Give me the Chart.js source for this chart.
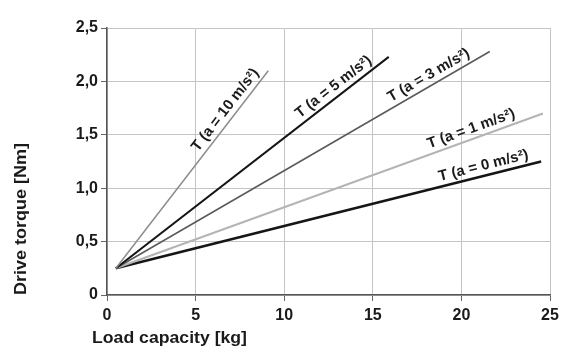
<!DOCTYPE html>
<html>
<head>
<meta charset="utf-8">
<script src="https://cdn.jsdelivr.net/npm/chart.js"></script>
<style>
  body { margin: 0; background: #fff; }
</style>
</head>
<body>
<canvas id="mycanvas" width="570" height="351"></canvas>
<script>
// all lines start from the same point
var startLoad = 0.5;
var startTorque = 0.25;

var seriesNames = ['T (a = 10 m/s²)', 'T (a = 5 m/s²)', 'T (a = 3 m/s²)', 'T (a = 1 m/s²)', 'T (a = 0 m/s²)'];
var endLoad = [9.1, 15.9, 21.6, 24.6, 24.5];
var endTorque = [2.1, 2.23, 2.28, 1.70, 1.25];

var xTicks = [0, 5, 10, 15, 20, 25];
var yTicks = [0, 0.5, 1.0, 1.5, 2.0, 2.5];

var xTitle = 'Load capacity [kg]';
var yTitle = 'Drive torque [Nm]';

// looks
var lineColors = ['#8c8c8c', '#151515', '#5a5a5a', '#b4b4b4', '#151515'];
var lineWidths = [1.5, 2, 1.6, 2, 2.6];
var labelAt = [0.77, 0.82, 0.85, 0.84, 0.87];

var datasets = [];
for (var i in seriesNames) {
	datasets.push({
		label: seriesNames[i],
		data: [{x: startLoad, y: startTorque}, {x: endLoad[i], y: endTorque[i]}],
		borderColor: lineColors[i],
		borderWidth: lineWidths[i],
		pointRadius: 0,
		showLine: true,
		fill: false
	});
}

var fontFam = '"Liberation Sans", Arial, sans-serif';

// squeeze/stretch a text to a given width
function fitText(ctx, txt, w) {
	var m = ctx.measureText(txt).width;
	ctx.save();
	ctx.scale(w / m, 1);
	ctx.fillText(txt, 0, 0);
	ctx.restore();
}

var labelPlugin = {
	id: 'lineLabels',
	afterDatasetsDraw: function(chart) {
		var ctx = chart.ctx;
		var xs = chart.scales.x, ys = chart.scales.y;
		ctx.save();
		ctx.fillStyle = '#1a1a1a';
		ctx.font = 'bold 15px ' + fontFam;
		ctx.textAlign = 'center';
		ctx.textBaseline = 'middle';
		for (var i = 0; i < seriesNames.length; i++) {
			var x0 = xs.getPixelForValue(startLoad), y0 = ys.getPixelForValue(startTorque);
			var x1 = xs.getPixelForValue(endLoad[i]), y1 = ys.getPixelForValue(endTorque[i]);
			var ang = Math.atan2(y1 - y0, x1 - x0);
			var t = labelAt[i];
			var px = x0 + (x1 - x0) * t, py = y0 + (y1 - y0) * t;
			var off = 10;
			px += Math.sin(ang) * off;
			py -= Math.cos(ang) * off;
			ctx.save();
			ctx.translate(px, py);
			ctx.rotate(ang);
			ctx.fillText(seriesNames[i], 0, 0);
			ctx.restore();
		}
		// axis titles
		ctx.font = 'bold 16px ' + fontFam;
		ctx.textAlign = 'left';
		ctx.textBaseline = 'alphabetic';
		ctx.save();
		ctx.translate(92, 343);
		fitText(ctx, xTitle, 155);
		ctx.restore();
		ctx.save();
		ctx.translate(26, 295);
		ctx.rotate(-Math.PI / 2);
		fitText(ctx, yTitle, 152);
		ctx.restore();
		ctx.restore();
	}
};

var ctx = document.getElementById('mycanvas');

var lineGraph = new Chart(ctx, {
	type: 'scatter',
	data: { datasets: datasets },
	plugins: [labelPlugin],
	options: {
		responsive: false,
		animation: false,
		devicePixelRatio: 1,
		layout: { padding: { left: 0, right: 20, top: 28, bottom: 0 } },
		plugins: {
			legend: { display: false },
			tooltip: { enabled: false }
		},
		scales: {
			x: {
				type: 'linear',
				min: 0, max: 25,
				afterBuildTicks: function(s) { s.ticks = xTicks.map(function(v) { return {value: v}; }); },
				afterFit: function(s) { s.height = 56; },
				grid: { color: '#c4c4c4', lineWidth: 1, tickLength: 6, tickColor: '#666' },
				border: { color: '#555', width: 1.5 },
				ticks: { color: '#1a1a1a', padding: 5, maxRotation: 0, autoSkip: false, font: { family: fontFam, size: 16, weight: 'bold' } }
			},
			y: {
				min: 0, max: 2.5,
				afterBuildTicks: function(s) { s.ticks = yTicks.map(function(v) { return {value: v}; }); },
				afterFit: function(s) { s.width = 107; },
				grid: { color: '#c4c4c4', lineWidth: 1, tickLength: 6, tickColor: '#666' },
				border: { color: '#555', width: 1.5 },
				ticks: {
					color: '#1a1a1a', padding: 3, autoSkip: false,
					font: { family: fontFam, size: 16, weight: 'bold' },
					callback: function(v) { return v === 0 ? '0' : v.toFixed(1).replace('.', ','); }
				}
			}
		}
	}
});
</script>
</body>
</html>
